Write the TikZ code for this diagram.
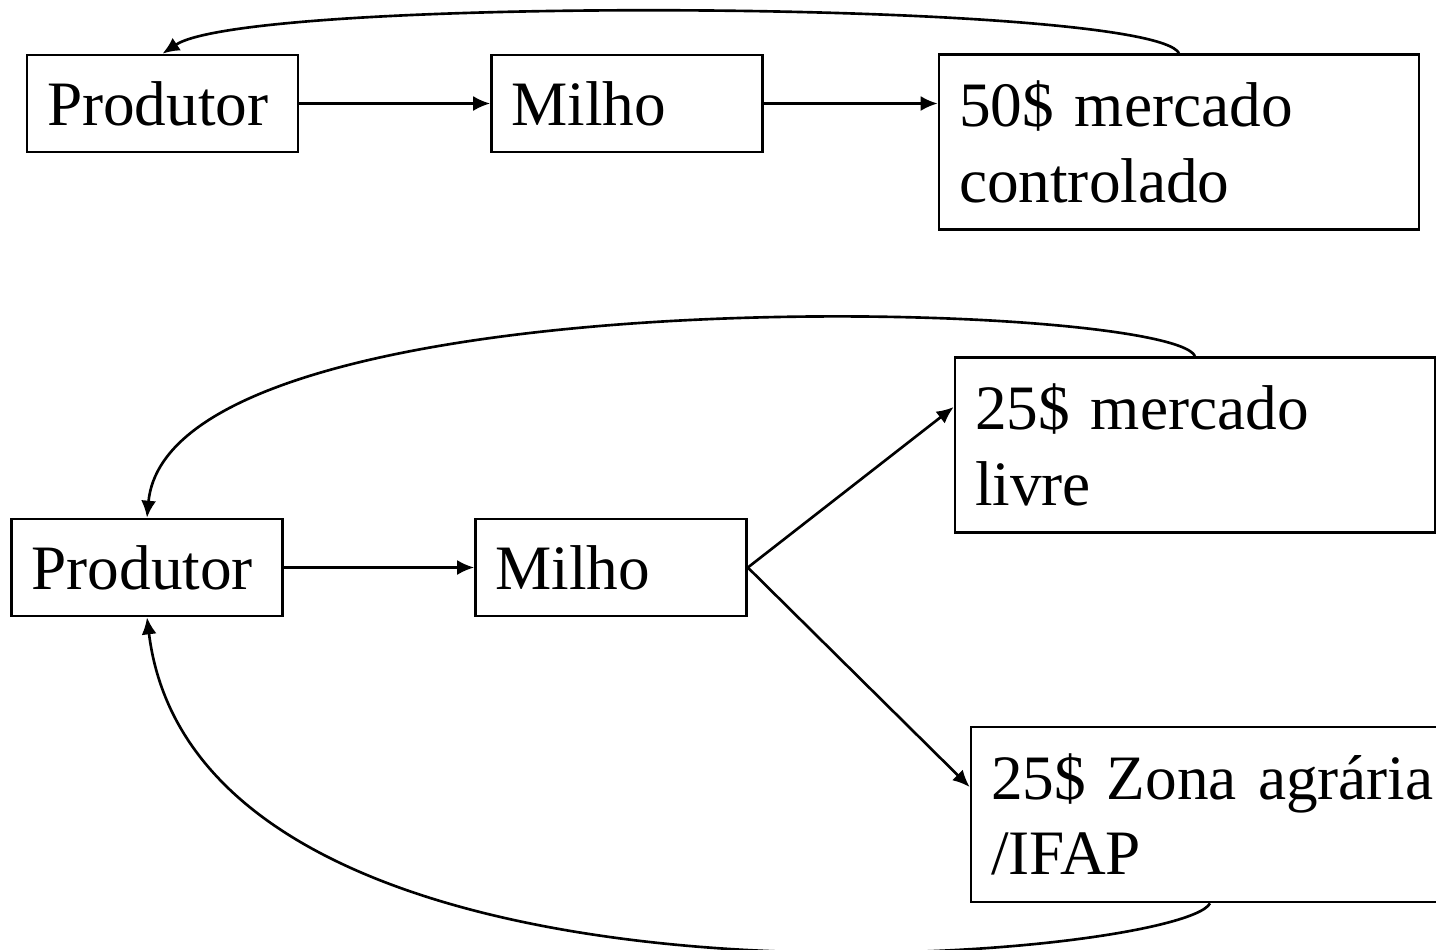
\documentclass[tikz,border=0pt]{standalone}
\usepackage{fontspec}
\setmainfont{Liberation Serif}
\usepackage{tikz}
\usetikzlibrary{calc,positioning}
\usetikzlibrary{arrows.meta}
\tikzset{>={Latex[width=3mm,length=3.4mm]}}

\begin{document}
\begin{tikzpicture}
      \tikzstyle{bnode} = [line width=1.5pt, rectangle, draw, inner xsep = 0.4cm, inner ysep = 0pt, align=left, font=\fontsize{36}{43}\selectfont]
      \tikzstyle{snode} = [bnode, text width = 4.62cm, minimum height = 1.94cm]
      \tikzstyle{lnode} = [bnode, text width = 8.8cm, minimum height = 3.5cm]
      \tikzstyle{link} = [line width=1.5pt, ->]

      \useasboundingbox (0,0) rectangle (28.72,-18.98);

      %%%%%%%%%%%%%%%%%%%%%%%%%%%%%%
      %% The controlled market
      %%%%%%%%%%%%%%%%%%%%%%%%%%%%%%
      \node[snode] (prodA) at (3.25,-2.07) {Produtor};
      \node[snode] (milhoA) at (12.54,-2.07) {Milho};
      \node[lnode] (mercA) at (23.58,-2.84) {50\$ mercado\\controlado};

      \draw[link] (prodA) -- (milhoA);
      \draw[link] (milhoA) -- (mercA.west |- milhoA);
      \draw[link] (mercA.north) .. controls (23.0,0) and (5.0,0.1) .. (prodA.north);

      %%%%%%%%%%%%%%%%%%%%%%%%%%%%%%
      %% The split market
      %%%%%%%%%%%%%%%%%%%%%%%%%%%%%%
      \node[snode] (prodB) at (2.94,-11.35) {Produtor};
      \node[snode] (milhoB) at (12.22,-11.35) {Milho};
      \node[lnode] (livre) at (23.9,-8.9) {25\$ mercado\\livre};
      \node[lnode, text width = 10cm] (zona) at (24.82,-16.29) {25\$ Zona agrária\\/IFAP};

      \draw[link] (prodB) -- (milhoB);
      \draw[link] (milhoB.east) -- ([yshift=0.76cm]livre.west);
      \draw[link] (milhoB.east) -- ([yshift=0.55cm]zona.west);

      \draw[link] (livre.north) .. controls (23.4,-6.0) and (3.4,-5.4) .. (prodB.north);
      \draw[link] ([xshift=-0.62cm]zona.south) .. controls (23.6,-19.2) and (4.0,-21.0) .. (prodB.south);

\end{tikzpicture}
\end{document}
